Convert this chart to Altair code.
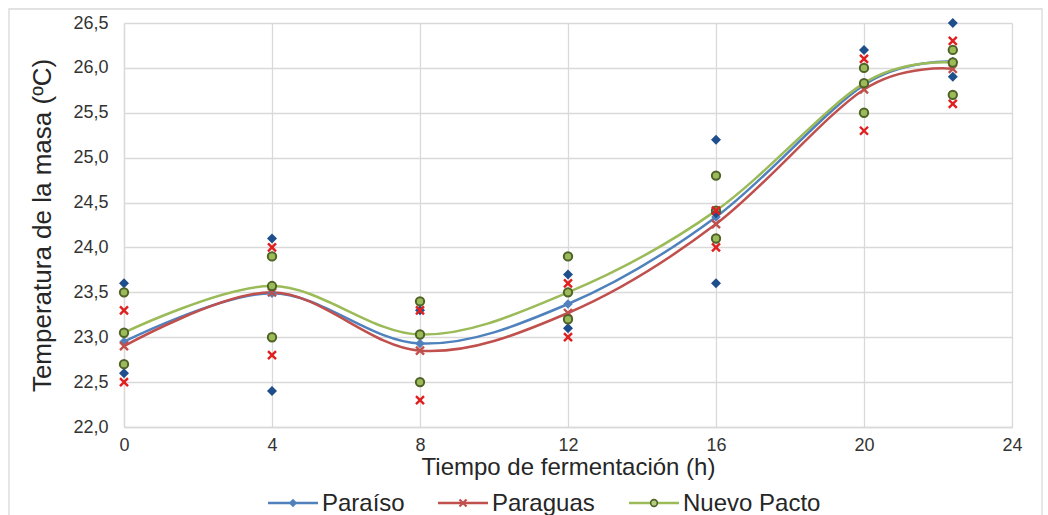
import altair as alt
import pandas as pd

series = ["Paraíso", "Paraguas", "Nuevo Pacto"]
times = [0, 4, 8, 12, 16, 20, 22.4]
mean_paraiso = [22.95, 23.49, 22.93, 23.37, 24.34, 25.81, 26.07]
mean_paraguas = [22.90, 23.50, 22.85, 23.27, 24.26, 25.76, 25.99]
mean_nuevo = [23.05, 23.57, 23.03, 23.50, 24.41, 25.83, 26.06]

rep_paraiso_t = [0, 0, 4, 4, 8, 12, 12, 16, 16, 16, 20, 22.4, 22.4]
rep_paraiso_v = [23.6, 22.6, 24.1, 22.4, 23.3, 23.7, 23.1, 25.2, 24.38, 23.6, 26.2, 26.5, 25.9]
rep_paraguas_t = [0, 0, 4, 4, 8, 8, 12, 12, 16, 16, 20, 20, 22.4, 22.4]
rep_paraguas_v = [23.3, 22.5, 24.0, 22.8, 23.3, 22.3, 23.6, 23.0, 24.41, 24.0, 26.1, 25.3, 26.3, 25.6]
rep_nuevo_t = [0, 0, 4, 4, 8, 8, 12, 12, 16, 16, 20, 20, 22.4, 22.4]
rep_nuevo_v = [23.5, 22.7, 23.9, 23.0, 23.4, 22.5, 23.9, 23.2, 24.8, 24.1, 26.0, 25.5, 26.2, 25.7]

x_ticks = [0, 4, 8, 12, 16, 20, 24]
y_ticks = [22.0, 22.5, 23.0, 23.5, 24.0, 24.5, 25.0, 25.5, 26.0, 26.5]

line_colors = ["#4F81BD", "#C0504D", "#9BBB59"]
X_PATH = "M-1,-1L1,1M-1,1L1,-1"

FONT = "Liberation Sans"
W, H = 888, 404

# legend layout (pixel offsets from the plot origin, not data)
LEG_START = [144, 314, 505]
LEG_LINE = 50
LEG_Y = 480

means = pd.DataFrame({
    "serie": [series[0]] * 7 + [series[1]] * 7 + [series[2]] * 7,
    "t": times * 3,
    "temp": mean_paraiso + mean_paraguas + mean_nuevo,
})
reps = pd.concat([
    pd.DataFrame({"serie": series[0], "t": rep_paraiso_t, "temp": rep_paraiso_v}),
    pd.DataFrame({"serie": series[1], "t": rep_paraguas_t, "temp": rep_paraguas_v}),
    pd.DataFrame({"serie": series[2], "t": rep_nuevo_t, "temp": rep_nuevo_v}),
])
legend_df = pd.DataFrame({
    "serie": series,
    "x1": LEG_START,
    "x2": [s + LEG_LINE for s in LEG_START],
    "xm": [s + LEG_LINE / 2 for s in LEG_START],
    "xt": [s + LEG_LINE + 4 for s in LEG_START],
})

xs = alt.Scale(domain=[0, 24], nice=False, zero=False)
ys = alt.Scale(domain=[22, 26.5], nice=False, zero=False)

x_enc = alt.X("t:Q", scale=xs, axis=alt.Axis(
    values=x_ticks, format="d", title="Tiempo de fermentación (h)",
    ticks=False, labelPadding=9, labelFontSize=18, titleFontSize=24, labelFlush=False,
    titleX=W / 2, titleY=40, titleBaseline="middle",
    grid=True, gridColor="#d9d9d9", gridWidth=1.3,
    domainColor="#d9d9d9", domainWidth=1.3))
y_enc = alt.Y("temp:Q", scale=ys, axis=alt.Axis(
    values=y_ticks, labelExpr="replace(format(datum.value, '.1f'), '.', ',')",
    title="Temperatura de la masa (ºC)", ticks=False, labelPadding=16, labelFlush=False,
    labelFontSize=18, titleFontSize=26, titleX=-82, titleY=H / 2,
    titleBaseline="middle", titleAlign="center",
    grid=True, gridColor="#d9d9d9", gridWidth=1.3,
    domainColor="#d9d9d9", domainWidth=1.3))

frame = alt.Chart(pd.DataFrame({"a": [1]})).mark_rect(
    fill="transparent", stroke="#d9d9d9", strokeWidth=1.3
).encode(x=alt.value(-115), x2=alt.value(W + 30), y=alt.value(-14), y2=alt.value(H + 120))

lines = alt.Chart(means).mark_line(interpolate="cardinal", strokeWidth=2.5).encode(
    x=x_enc, y=y_enc,
    stroke=alt.Stroke("serie:N", scale=alt.Scale(domain=series, range=line_colors), legend=None),
    detail="serie:N",
)

def pts(df, name, **kw):
    return alt.Chart(df).transform_filter(alt.datum.serie == name).mark_point(**kw).encode(
        x=alt.X("t:Q", scale=xs), y=alt.Y("temp:Q", scale=ys))

mean_blue = pts(means, series[0], shape="diamond", filled=True, color="#4F81BD", size=90, opacity=1)
mean_red = pts(means, series[1], shape=X_PATH, filled=False, color="#C0504D", size=64, strokeWidth=2.4, opacity=1)
mean_green = pts(means, series[2], shape="circle", filled=True, fill="#9BBB59", stroke="#4F6228", strokeWidth=2, size=70, opacity=1)

rep_blue = pts(reps, series[0], shape="diamond", filled=True, color="#1F4E8C", size=100, opacity=1)
rep_green = pts(reps, series[2], shape="circle", filled=True, fill="#9BBB59", stroke="#4F6228", strokeWidth=2, size=70, opacity=1)
rep_red = pts(reps, series[1], shape=X_PATH, filled=False, color="#E0201E", size=64, strokeWidth=2.4, opacity=1)

# legend built from the series list
leg_lines = alt.Chart(legend_df).mark_rule(strokeWidth=2.5).encode(
    x=alt.X("x1:Q", scale=None), x2="x2:Q", y=alt.value(LEG_Y),
    stroke=alt.Stroke("serie:N", scale=alt.Scale(domain=series, range=line_colors), legend=None),
)

def leg_pt(name, **kw):
    return alt.Chart(legend_df).transform_filter(alt.datum.serie == name).mark_point(**kw).encode(
        x=alt.X("xm:Q", scale=None), y=alt.value(LEG_Y))

leg_blue = leg_pt(series[0], shape="diamond", filled=True, color="#4F81BD", size=70, opacity=1)
leg_red = leg_pt(series[1], shape=X_PATH, filled=False, color="#C0504D", size=50, strokeWidth=2.2, opacity=1)
leg_green = leg_pt(series[2], shape="circle", filled=True, fill="#B5CC80", stroke="#4F6228", strokeWidth=1.6, size=45, opacity=1)

leg_text = alt.Chart(legend_df).mark_text(
    align="left", baseline="middle", font=FONT, fontSize=24, color="#262626", dy=1
).encode(x=alt.X("xt:Q", scale=None), y=alt.value(LEG_Y), text="serie:N")

chart = alt.layer(
    frame, lines, mean_blue, mean_red, mean_green, rep_blue, rep_green, rep_red,
    leg_lines, leg_blue, leg_red, leg_green, leg_text
).properties(
    width=W, height=H,
    autosize=alt.AutoSizeParams(type="none"),
    padding={"left": 124, "top": 23, "right": 36, "bottom": 88},
).configure_view(stroke=None).configure_axis(
    labelFont=FONT, titleFont=FONT, labelColor="#333333", titleColor="#262626",
    titleFontWeight="normal"
)

chart.save("out.html", embed_options={"renderer": "svg", "actions": False})
